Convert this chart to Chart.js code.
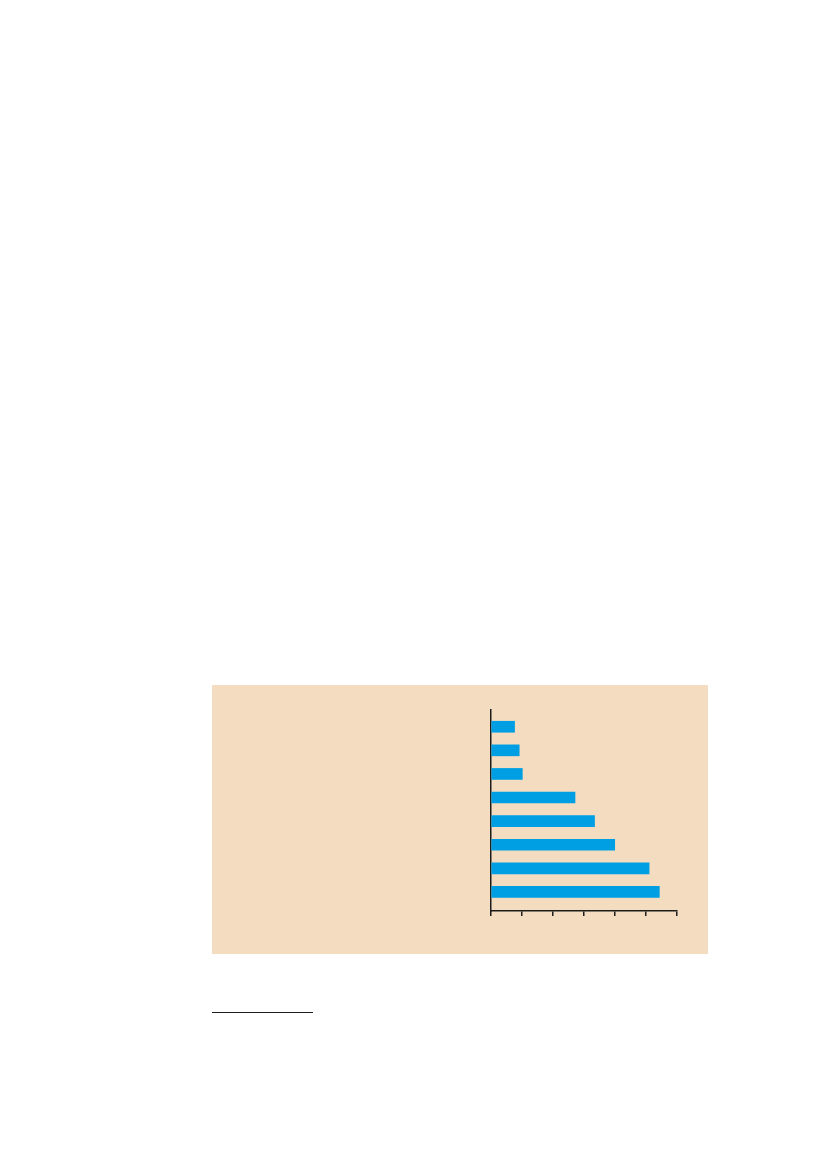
<!DOCTYPE html>
<html>
<head>
<meta charset="utf-8">
<script src="https://cdn.jsdelivr.net/npm/chart.js@4"></script>
<style>
  html, body { margin: 0; padding: 0; background: #fff; }
  body { width: 827px; height: 1169px; position: relative; overflow: hidden; }
  #panel { position: absolute; left: 212px; top: 685px; width: 496px; height: 269px; background: #f3dcc0; }
  #wrap { position: absolute; left: 470px; top: 700px; width: 220px; height: 230px; }
  #rule { position: absolute; left: 212px; top: 1012px; width: 101px; height: 1px; background: #1d1d1b; }
</style>
</head>
<body>
<div id="panel"></div>
<div id="wrap"><canvas id="barChart"></canvas></div>
<div id="rule"></div>
<script>
// data (top bar first), axis runs 0..6
const categories = ['1', '2', '3', '4', '5', '6', '7', '8'];
const values = [0.76, 0.91, 1.01, 2.71, 3.34, 3.99, 5.10, 5.43];
const xTicks = [0, 1, 2, 3, 4, 5, 6];

const axisColor = '#1d1d1b';

const ctx = document.getElementById('barChart').getContext('2d');
const chart = new Chart(ctx, {
    type: 'bar',
    data: {
        labels: categories,
        datasets: [{
            data: values.map((v, i) => ({ x: v, y: i })),
            backgroundColor: '#009fe3',
            borderWidth: 0,
            barThickness: 11
        }]
    },
    options: {
        indexAxis: 'y',
        responsive: true,
        maintainAspectRatio: false,
        devicePixelRatio: 1,
        animation: false,
        layout: { padding: { left: 21, top: 10, right: 13, bottom: 14 } },
        plugins: { legend: { display: false }, tooltip: { enabled: false } },
        scales: {
            x: {
                type: 'linear',
                min: xTicks[0],
                max: xTicks[xTicks.length - 1],
                afterBuildTicks: scale => { scale.ticks = xTicks.map(v => ({ value: v })); },
                ticks: { display: false },
                grid: { drawOnChartArea: false, drawTicks: true, tickLength: 5, color: axisColor, tickColor: axisColor, lineWidth: 1.5 },
                border: { display: true, color: axisColor, width: 1.5 }
            },
            y: {
                type: 'linear',
                reverse: true,
                offset: false,
                min: -0.71,
                max: categories.length - 1 + 0.81,
                afterFit: scale => { scale.width = 0; },
                ticks: { display: false },
                grid: { display: false },
                border: { display: true, color: axisColor, width: 1.5 }
            }
        }
    }
});
</script>
</body>
</html>
